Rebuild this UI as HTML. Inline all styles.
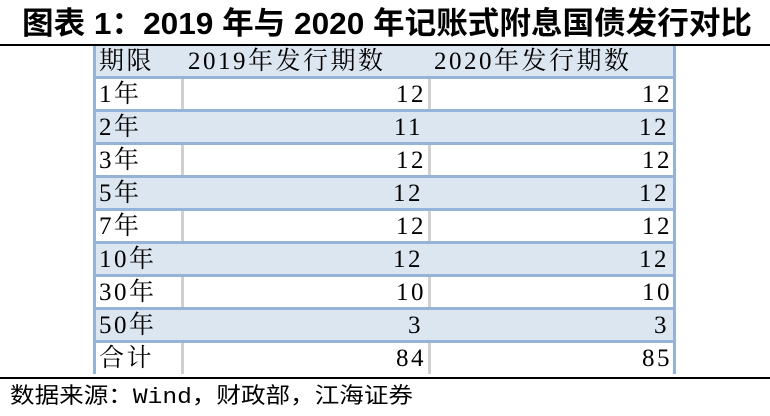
<!DOCTYPE html>
<html><head><meta charset="utf-8"><style>
body{margin:0;width:770px;height:416px;background:#fff;position:relative;overflow:hidden}
svg.t{position:absolute;left:0;top:0}
.tline{position:absolute;left:0;width:770px;top:44px;height:2px;background:#000}
.bline{position:absolute;left:0;width:770px;top:377px;height:2px;background:#000}
.tbl{position:absolute;left:93px;top:46px;width:577px;border-left:3px solid #95b3d7;border-right:3px solid #95b3d7}
.row{height:30px;border-bottom:3px solid #95b3d7;position:relative;font:25px "Liberation Serif","Noto Serif CJK SC",serif;color:#000;line-height:31px;letter-spacing:2.5px}
.row.last{border-bottom:none;height:31px}
.row.alt{background:#dce6f1}
.c{position:absolute;top:0;height:100%;white-space:nowrap}
.c1{left:3px;width:80px}
.c2{left:85px;width:242px;text-align:right}
.c3{left:332px;width:241px;text-align:right}
.row.white .c2,.row.white .c3{border-left:3px solid #d0d0d0}
</style></head><body>
<svg class="t" width="770" height="416">
<text x="22" y="34" font-family="Liberation Sans, Noto Sans CJK SC, sans-serif" font-weight="bold" font-size="31" textLength="730" lengthAdjust="spacingAndGlyphs">图表 1：2019 年与 2020 年记账式附息国债发行对比</text>
<text x="10" y="403" font-family="Liberation Mono, Noto Sans CJK SC, monospace" font-size="22" textLength="403" lengthAdjust="spacingAndGlyphs">数据来源：Wind，财政部，江海证券</text>
</svg>
<div class="tline"></div>
<div class="tbl">
<div class="row alt"><div class="c c1">期限</div><div class="c" style="left:92px">2019年发行期数</div><div class="c" style="left:338px">2020年发行期数</div></div>
<div id="body"></div>
</div>
<div class="bline"></div>
<script>
const terms=['1年','2年','3年','5年','7年','10年','30年','50年','合计'];
const v2019=[12,11,12,12,12,12,10,3,84];
const v2020=[12,12,12,12,12,12,10,3,85];
const body=document.getElementById('body');
terms.forEach((t,i)=>{
  const r=document.createElement('div');
  r.className='row '+(i%2?'alt':'white')+(i===terms.length-1?' last':'');
  
  
  r.innerHTML='<div class="c c1">'+t+'</div><div class="c c2">'+v2019[i]+'</div><div class="c c3">'+v2020[i]+'</div>';
  body.appendChild(r);
});
</script>
</body></html>
